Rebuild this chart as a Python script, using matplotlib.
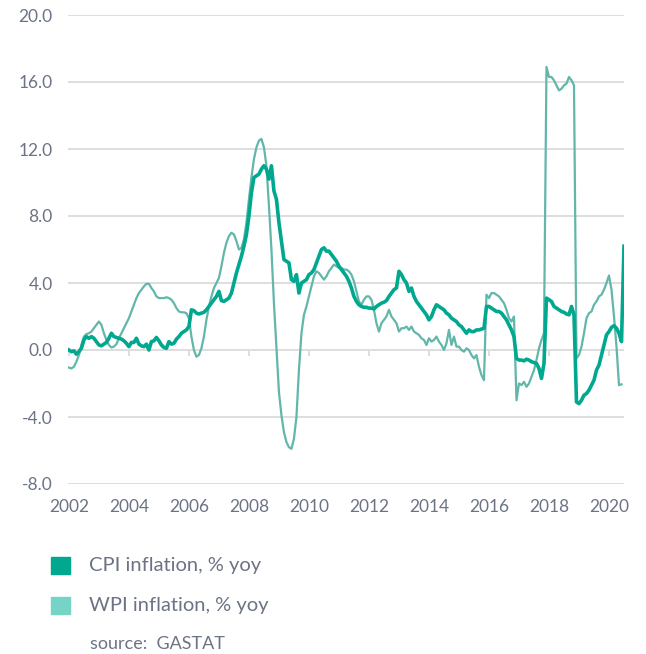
import numpy as np
import matplotlib
matplotlib.use("Agg")
import matplotlib.pyplot as plt
from matplotlib.patches import Rectangle

plt.rcParams.update({
    "font.family": ["Lato", "DejaVu Sans"],
    "axes.spines.top": False,
    "axes.spines.right": False,
    "axes.spines.left": False,
    "axes.spines.bottom": False,
})

# ── Data: monthly % yoy, Jan 2002 onwards ─────────────────────────────────
cpi = [
    0.0, -0.1, -0.05, -0.25, -0.1, 0.1, 0.6, 0.8, 0.7, 0.8, 0.7, 0.5,        # 2002
    0.3, 0.25, 0.35, 0.45, 0.7, 1.0, 0.8, 0.75, 0.7, 0.65, 0.55, 0.4,        # 2003
    0.2, 0.45, 0.45, 0.7, 0.35, 0.25, 0.2, 0.35, 0.0, 0.5, 0.55, 0.75,       # 2004
    0.55, 0.3, 0.15, 0.1, 0.5, 0.35, 0.4, 0.65, 0.8, 1.0, 1.1, 1.2,          # 2005
    1.4, 2.4, 2.35, 2.2, 2.15, 2.2, 2.25, 2.4, 2.6, 2.8, 3.0, 3.2,           # 2006
    3.5, 2.95, 2.9, 3.0, 3.1, 3.4, 4.0, 4.6, 5.1, 5.6, 6.2, 6.9,             # 2007
    8.0, 9.4, 10.3, 10.4, 10.5, 10.8, 11.0, 10.8, 10.2, 11.0, 9.5, 9.0,      # 2008
    7.6, 6.5, 5.4, 5.3, 5.2, 4.2, 4.1, 4.5, 3.4, 4.0, 4.1, 4.2,              # 2009
    4.5, 4.6, 4.8, 5.2, 5.6, 6.0, 6.1, 5.9, 5.9, 5.7, 5.5, 5.3,              # 2010
    5.0, 4.8, 4.6, 4.4, 4.1, 3.7, 3.2, 2.9, 2.7, 2.6, 2.55, 2.55,            # 2011
    2.5, 2.5, 2.45, 2.6, 2.7, 2.8, 2.85, 2.95, 3.2, 3.4, 3.6, 3.7,           # 2012
    4.7, 4.5, 4.2, 4.0, 3.5, 3.7, 3.2, 2.9, 2.7, 2.5, 2.3, 2.1,              # 2013
    1.8, 2.0, 2.4, 2.7, 2.6, 2.5, 2.4, 2.2, 2.1, 1.9, 1.8, 1.7,              # 2014
    1.5, 1.4, 1.2, 1.0, 1.2, 1.1, 1.1, 1.2, 1.2, 1.25, 1.3, 2.6,             # 2015
    2.6, 2.5, 2.4, 2.3, 2.3, 2.2, 2.0, 1.8, 1.5, 1.2, 0.8, -0.5,             # 2016
    -0.6, -0.6, -0.65, -0.55, -0.6, -0.7, -0.75, -0.8, -1.1, -1.7, -0.8, 3.1,  # 2017
    3.0, 2.9, 2.6, 2.5, 2.4, 2.3, 2.25, 2.15, 2.1, 2.6, 2.1, -3.1,           # 2018
    -3.2, -3.0, -2.7, -2.6, -2.4, -2.1, -1.8, -1.2, -0.9, -0.3, 0.3, 0.9,    # 2019
    1.1, 1.35, 1.45, 1.3, 1.0, 0.5, 6.2,                                     # 2020
]

wpi = [
    -1.05, -1.1, -1.0, -0.7, -0.3, 0.3, 0.8, 0.95, 1.0, 1.1, 1.3, 1.5,       # 2002
    1.7, 1.5, 1.0, 0.6, 0.3, 0.15, 0.2, 0.35, 0.7, 1.0, 1.3, 1.6,            # 2003
    1.9, 2.3, 2.7, 3.1, 3.4, 3.6, 3.8, 3.95, 3.95, 3.7, 3.5, 3.2,            # 2004
    3.1, 3.1, 3.1, 3.15, 3.1, 3.0, 2.8, 2.5, 2.3, 2.25, 2.25, 2.2,           # 2005
    1.9, 0.8, 0.0, -0.4, -0.3, 0.1, 0.8, 1.8, 2.6, 3.2, 3.7, 4.0,            # 2006
    4.3, 5.0, 5.8, 6.4, 6.8, 7.0, 6.9, 6.5, 6.0, 6.1, 6.6, 7.6,              # 2007
    9.0, 10.3, 11.4, 12.1, 12.5, 12.6, 12.1, 11.0, 8.6, 6.0, 2.8, 0.2,       # 2008
    -2.5, -3.9, -4.9, -5.5, -5.8, -5.9, -5.3, -4.0, -1.2, 1.0, 2.1, 2.6,     # 2009
    3.2, 3.8, 4.4, 4.7, 4.6, 4.4, 4.2, 4.4, 4.7, 4.9, 5.1, 5.0,              # 2010
    4.9, 4.9, 4.8, 4.8, 4.7, 4.5, 4.1, 3.5, 2.9, 2.7, 3.0, 3.2,              # 2011
    3.2, 3.0, 2.4, 1.6, 1.1, 1.6, 1.8, 2.0, 2.4, 2.0, 1.8, 1.6,              # 2012
    1.1, 1.3, 1.3, 1.4, 1.2, 1.4, 1.1, 1.0, 0.9, 0.7, 0.6, 0.3,              # 2013
    0.7, 0.5, 0.6, 0.8, 0.5, 0.3, 0.0, 0.4, 1.2, 0.3, 0.8, 0.2,              # 2014
    0.2, 0.0, -0.1, 0.1, 0.0, -0.3, -0.5, -0.3, -1.0, -1.5, -1.8, 3.3,       # 2015
    3.1, 3.4, 3.4, 3.3, 3.2, 3.0, 2.8, 2.4, 1.9, 1.7, 2.0, -3.0,             # 2016
    -2.0, -2.1, -1.9, -2.2, -2.0, -1.6, -1.2, -0.6, 0.1, 0.6, 1.0, 16.9,     # 2017
    16.3, 16.3, 16.1, 15.8, 15.5, 15.6, 15.8, 15.9, 16.3, 16.1, 15.8, -0.5,  # 2018
    -0.3, 0.2, 1.0, 1.9, 2.2, 2.3, 2.7, 2.9, 3.2, 3.3, 3.6, 4.0,             # 2019
    4.45, 3.6, 2.0, 0.2, -2.1, -2.05,                                        # 2020
]

year_ticks = list(range(2002, 2021, 2))
y_ticks = [-8, -4, 0, 4, 8, 12, 16, 20]

x_cpi = 2002 + np.arange(len(cpi)) / 12
x_wpi = 2002 + np.arange(len(wpi)) / 12

# ── Style ─────────────────────────────────────────────────────────────────
c_cpi = "#00a88f"
c_wpi_line = "#62b6aa"
c_wpi_patch = "#76d4c6"
c_text = "#6b7385"
c_grid = "#dedede"

fig = plt.figure(figsize=(6.46, 6.54), dpi=100)
ax = fig.add_axes([68 / 646, 170 / 654, 556 / 646, 469 / 654])

for v in y_ticks:
    ax.axhline(v, color=c_grid, linewidth=1.4, zorder=0)
# small year ticks hanging below the zero line
ax.vlines(year_ticks, -0.35, 0, color=c_grid, linewidth=1.4, zorder=0)

ax.plot(x_wpi, wpi, color=c_wpi_line, linewidth=1.6, zorder=2)
ax.plot(x_cpi, cpi, color=c_cpi, linewidth=2.6, zorder=3)

ax.set_xlim(2001.97, 2020.5)
ax.set_ylim(-8, 20)
ax.set_yticks(y_ticks)
ax.set_yticklabels([f"{v:.1f}" for v in y_ticks])
ax.set_xticks(year_ticks)
ax.set_xticklabels([str(y) for y in year_ticks])
ax.tick_params(axis="y", length=0, pad=11, labelsize=12.5, labelcolor=c_text)
ax.tick_params(axis="x", length=0, pad=11, labelsize=12.5, labelcolor=c_text)

# ── Legend and source, drawn in figure pixels ─────────────────────────────
W, H = 646, 654
for (y_px, col, label) in [(565, c_cpi, "CPI inflation, % yoy"),
                           (605, c_wpi_patch, "WPI inflation, % yoy")]:
    fig.patches.append(Rectangle((51 / W, 1 - (y_px + 8.5) / H), 19 / W, 17 / H,
                                 transform=fig.transFigure, color=col))
    fig.text(89 / W, 1 - y_px / H, label, ha="left", va="center",
             fontsize=14.5, color=c_text)
fig.text(90 / W, 1 - 644 / H, "source:  GASTAT", ha="left", va="center",
         fontsize=13, color=c_text)

fig.savefig("out.png", dpi=100)
plt.close(fig)
